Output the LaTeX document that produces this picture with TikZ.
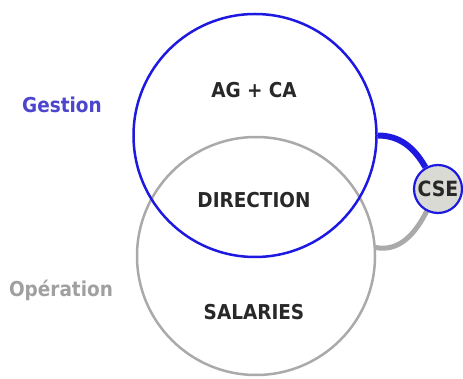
\documentclass[tikz,border=0pt]{standalone}
\usepackage{fontspec}
\setmainfont{DejaVu Sans Condensed}
\usetikzlibrary{backgrounds}
\definecolor{gblue}{RGB}{30,25,225}
\definecolor{gtext}{RGB}{75,70,205}
\definecolor{ggray}{RGB}{170,170,170}
\definecolor{otext}{RGB}{160,160,160}
\definecolor{dtext}{RGB}{40,40,40}
\definecolor{csefill}{RGB}{218,218,212}
\begin{document}
\begin{tikzpicture}[x=1pt,y=-1pt,
  ring/.style={circle,inner sep=0pt,line width=2.5pt},
  lbl/.style={font=\fontsize{20.5}{20.5}\selectfont\bfseries,text=dtext,inner sep=0pt},
  side/.style={font=\fontsize{20.5}{20.5}\selectfont\bfseries,inner sep=0pt},
  conn/.style={line width=5pt}]
\useasboundingbox (0,0) rectangle (463,379);
\node[ring,draw=ggray,minimum size=238pt] (oper) at (256,256) {};
\node[ring,draw=gblue,minimum size=243pt] (gest) at (255,135.5) {};
\node[circle,draw=gblue,fill=csefill,line width=2.2pt,minimum size=48pt,inner sep=0pt,
  font=\fontsize{21}{21}\selectfont\bfseries,text=dtext] (cse) at (438,189) {CSE};
\begin{scope}[on background layer]
\draw[conn,ggray] (oper.4) to[out=-10,in=243] (cse.243);
\draw[conn,gblue,line width=6pt] (gest.east) to[out=0,in=120] (cse.120);
\end{scope}
\node[lbl] (ag) at (254,90) {AG + CA};
\node[lbl] (dir) at (254,200) {DIRECTION};
\node[lbl] (sal) at (254,312) {SALARIES};
\node[side,text=gtext] (gestlbl) at (62,105) {Gestion};
\node[side,text=otext] (operlbl) at (61,290) {Opération};
\end{tikzpicture}
\end{document}
